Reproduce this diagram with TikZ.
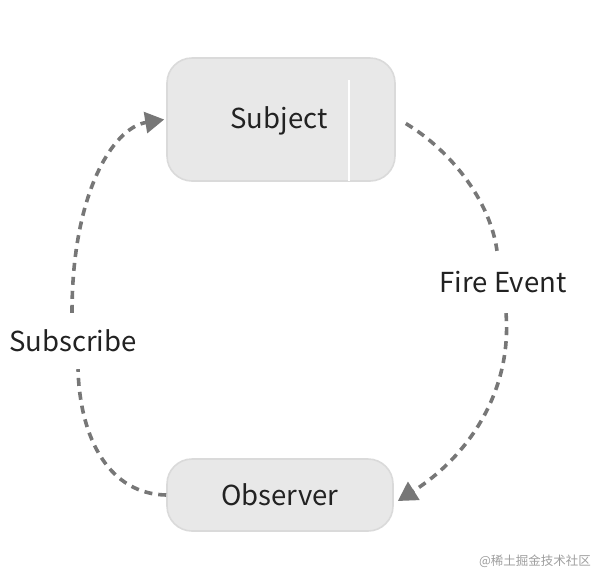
\documentclass[tikz,border=0pt]{standalone}
\usepackage{fontspec}
\setmainfont{Noto Sans CJK SC}
\usetikzlibrary{arrows.meta,calc}
\definecolor{boxfill}{HTML}{E8E8E8}
\definecolor{boxline}{HTML}{DADADA}
\definecolor{linegray}{HTML}{777777}
\definecolor{txt}{HTML}{222222}
\tikzset{
  box/.style={draw=boxline, line width=1.6pt, fill=boxfill, rounded corners=25pt, text=txt, font=\fontsize{27.5}{31}\selectfont, inner sep=0pt},
  dashline/.style={draw=linegray, line width=3.6pt, dash pattern=on 8pt off 6pt},
  tip/.style={-{Triangle[length=19pt,width=21pt]}},
  lbl/.style={text=txt, font=\fontsize{27.5}{31}\selectfont, inner sep=0pt}
}
\begin{document}
\begin{tikzpicture}[x=1pt,y=-1pt]
\useasboundingbox (0,0) rectangle (596,574);
\node[box, minimum width=228pt, minimum height=123pt] (sub) at (281,119.5) {};
\node[lbl] (subtxt) at (279,121) {Subject};
\draw[white, line width=1.2pt] (349,80) -- (349,181);
\node[box, minimum width=226pt, minimum height=72pt] (obs) at (280,495) {Observer};
\node[lbl, minimum height=56pt] (subs) at (73,341) {Subscribe};
\node[lbl, minimum height=62pt] (fire) at (503,282) {Fire Event};
% left connector
\draw[dashline] (obs.west) .. controls (110,494) and (80,440) .. ([xshift=5pt]subs.south);
\draw[dashline, tip] ([xshift=-1pt]subs.north) .. controls (72,195) and (112,128) .. ([xshift=-2pt]sub.west);
% right connector
\draw[dashline] ([xshift=10pt,yshift=-4pt]sub.east) .. controls (450,150) and (490,200) .. ([xshift=-6pt]fire.north);
\draw[dashline, tip] ([xshift=3pt]fire.south) .. controls (512,390) and (470,455) .. ([xshift=4pt,yshift=-6pt]obs.east);
\node[text=black!38, font=\fontsize{12.5}{14}\selectfont, inner sep=0pt] (wm) at (535,561) {@稀土掘金技术社区};
\end{tikzpicture}
\end{document}
